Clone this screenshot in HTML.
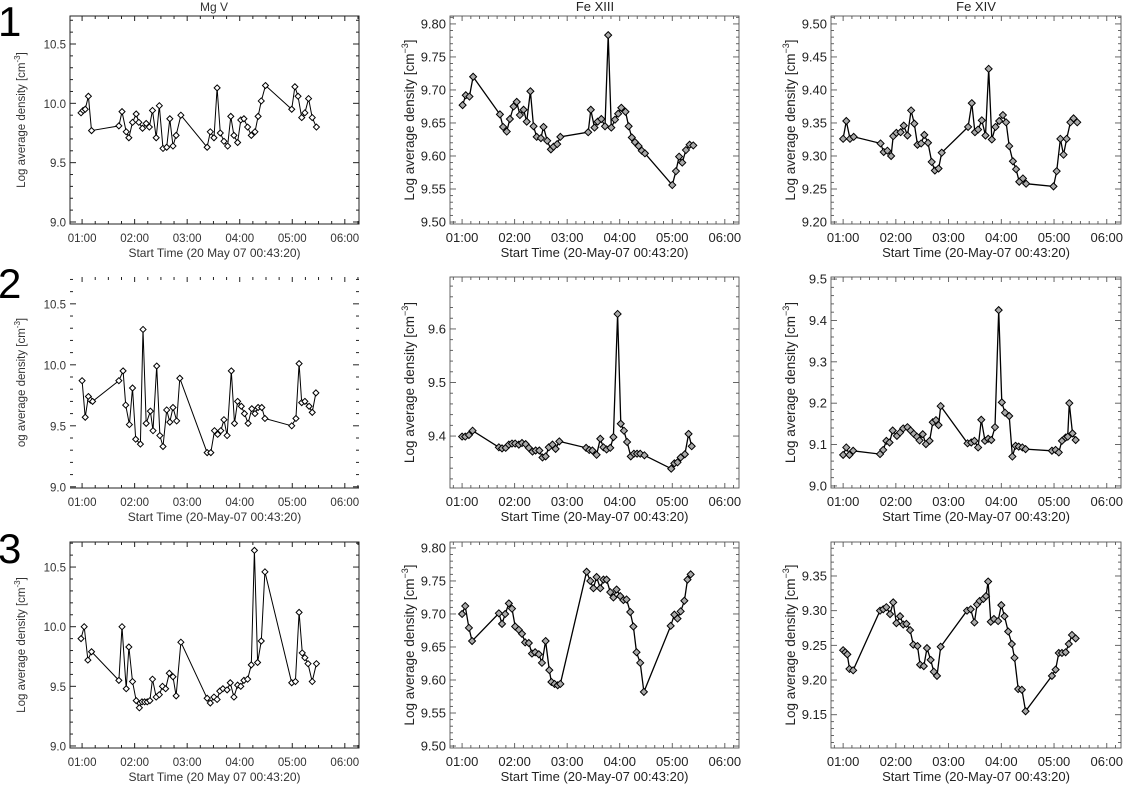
<!DOCTYPE html>
<html><head><meta charset="utf-8"><style>
html,body{margin:0;padding:0;background:#fff;}
svg{display:block;font-family:"Liberation Sans",sans-serif;}
</style></head><body>
<svg id="fig" width="1130" height="785" viewBox="0 0 1130 785">
<text x="-2" y="36" font-size="42" fill="#000">1</text>
<text x="-2" y="298" font-size="42" fill="#000">2</text>
<text x="-2" y="563" font-size="42" fill="#000">3</text>
<text x="214" y="11" font-size="12" fill="#333" text-anchor="middle">Mg V</text>
<text x="595" y="11" font-size="13" fill="#222" text-anchor="middle">Fe XIII</text>
<text x="976" y="11" font-size="13" fill="#222" text-anchor="middle">Fe XIV</text>
</svg>
<script>
// time (hours) arrays and log-density value arrays
const r1c1_t=[0.98,1.02,1.06,1.12,1.18,1.70,1.76,1.84,1.89,1.96,2.03,2.08,2.15,2.22,2.28,2.34,2.41,2.47,2.54,2.61,2.67,2.73,2.79,2.88,3.38,3.44,3.51,3.57,3.63,3.70,3.77,3.83,3.89,3.96,4.02,4.08,4.15,4.22,4.29,4.35,4.41,4.49,4.99,5.05,5.11,5.18,5.24,5.31,5.38,5.46];
const r1c1_v=[9.92,9.94,9.95,10.06,9.77,9.81,9.93,9.76,9.71,9.84,9.91,9.84,9.79,9.83,9.80,9.94,9.71,9.98,9.62,9.63,9.87,9.64,9.73,9.90,9.63,9.76,9.71,10.13,9.75,9.68,9.64,9.89,9.73,9.67,9.86,9.87,9.80,9.73,9.76,9.89,10.02,10.15,9.95,10.14,10.06,9.88,9.92,10.04,9.88,9.80];
const r1c2_t=[1.01,1.07,1.14,1.21,1.72,1.78,1.85,1.91,1.98,2.04,2.10,2.17,2.23,2.30,2.36,2.42,2.50,2.55,2.62,2.69,2.74,2.81,2.87,3.40,3.45,3.52,3.58,3.65,3.72,3.78,3.84,3.91,3.97,4.03,4.11,4.17,4.23,4.29,4.36,4.42,4.48,5.00,5.07,5.13,5.19,5.26,5.33,5.40];
const r1c2_v=[9.677,9.692,9.690,9.720,9.663,9.644,9.637,9.656,9.675,9.682,9.662,9.670,9.652,9.698,9.645,9.629,9.627,9.644,9.623,9.610,9.614,9.618,9.629,9.636,9.670,9.643,9.652,9.656,9.645,9.783,9.643,9.655,9.664,9.673,9.667,9.645,9.628,9.621,9.615,9.608,9.604,9.556,9.577,9.599,9.590,9.609,9.617,9.616];
const r1c3_t=[1.00,1.06,1.13,1.20,1.71,1.77,1.84,1.91,1.95,2.01,2.09,2.15,2.22,2.29,2.35,2.41,2.48,2.54,2.61,2.68,2.74,2.81,2.87,3.37,3.44,3.50,3.56,3.63,3.70,3.76,3.82,3.89,3.96,4.03,4.09,4.15,4.22,4.28,4.34,4.41,4.47,4.99,5.05,5.12,5.18,5.24,5.31,5.37,5.44];
const r1c3_v=[9.326,9.353,9.326,9.329,9.319,9.306,9.308,9.300,9.330,9.335,9.336,9.346,9.331,9.369,9.349,9.317,9.319,9.332,9.320,9.291,9.278,9.281,9.305,9.344,9.380,9.336,9.340,9.354,9.331,9.432,9.325,9.344,9.353,9.362,9.351,9.315,9.292,9.280,9.261,9.266,9.258,9.254,9.277,9.326,9.302,9.326,9.351,9.357,9.351];
const r2c1_t=[1.00,1.06,1.12,1.16,1.20,1.70,1.78,1.83,1.90,1.96,2.02,2.11,2.16,2.22,2.30,2.35,2.42,2.48,2.54,2.61,2.67,2.73,2.80,2.86,3.38,3.45,3.52,3.58,3.64,3.70,3.76,3.84,3.90,3.96,4.03,4.09,4.16,4.23,4.29,4.35,4.42,4.48,4.99,5.07,5.13,5.18,5.24,5.32,5.38,5.45];
const r2c1_v=[9.87,9.57,9.74,9.71,9.70,9.87,9.95,9.67,9.51,9.81,9.39,9.35,10.29,9.52,9.62,9.46,9.99,9.42,9.33,9.63,9.53,9.65,9.54,9.89,9.28,9.28,9.46,9.43,9.46,9.55,9.42,9.95,9.52,9.70,9.66,9.60,9.52,9.64,9.60,9.65,9.65,9.56,9.50,9.56,10.01,9.69,9.70,9.66,9.61,9.77];
const r2c2_t=[1.00,1.06,1.13,1.20,1.70,1.76,1.83,1.89,1.95,2.01,2.08,2.14,2.21,2.27,2.34,2.40,2.47,2.53,2.59,2.65,2.72,2.78,2.85,3.36,3.42,3.48,3.56,3.63,3.69,3.75,3.82,3.88,3.96,4.02,4.08,4.14,4.21,4.27,4.33,4.39,4.47,4.98,5.04,5.10,5.16,5.24,5.31,5.37];
const r2c2_v=[9.399,9.399,9.402,9.410,9.379,9.377,9.378,9.384,9.386,9.386,9.384,9.387,9.385,9.378,9.371,9.373,9.373,9.360,9.362,9.379,9.384,9.376,9.390,9.378,9.374,9.373,9.365,9.395,9.379,9.375,9.378,9.398,9.628,9.423,9.410,9.389,9.362,9.367,9.367,9.367,9.364,9.339,9.349,9.351,9.360,9.366,9.404,9.381];
const r2c3_t=[1.00,1.06,1.12,1.19,1.70,1.76,1.82,1.88,1.94,2.02,2.08,2.14,2.22,2.28,2.34,2.40,2.45,2.51,2.57,2.64,2.70,2.76,2.81,2.85,3.36,3.43,3.49,3.56,3.62,3.69,3.75,3.81,3.88,3.95,4.01,4.07,4.15,4.21,4.27,4.33,4.40,4.46,4.96,5.03,5.09,5.15,5.22,5.26,5.29,5.35,5.41];
const r2c3_v=[9.075,9.093,9.075,9.085,9.077,9.087,9.109,9.105,9.134,9.121,9.129,9.139,9.142,9.134,9.126,9.119,9.110,9.125,9.101,9.109,9.154,9.159,9.147,9.193,9.103,9.105,9.109,9.093,9.160,9.109,9.114,9.111,9.142,9.425,9.202,9.177,9.169,9.071,9.097,9.095,9.093,9.089,9.085,9.087,9.081,9.109,9.117,9.119,9.200,9.127,9.111];
const r3c1_t=[0.98,1.04,1.11,1.18,1.70,1.76,1.84,1.89,1.96,2.03,2.09,2.14,2.19,2.24,2.29,2.34,2.41,2.47,2.53,2.59,2.66,2.73,2.79,2.88,3.38,3.44,3.51,3.57,3.62,3.68,3.76,3.82,3.89,3.96,4.02,4.08,4.15,4.22,4.28,4.34,4.41,4.48,4.99,5.06,5.13,5.19,5.24,5.30,5.38,5.46];
const r3c1_v=[9.90,10.00,9.72,9.79,9.55,10.00,9.48,9.83,9.54,9.38,9.32,9.37,9.37,9.37,9.38,9.56,9.41,9.43,9.50,9.48,9.61,9.58,9.42,9.87,9.40,9.36,9.41,9.39,9.46,9.48,9.47,9.53,9.41,9.51,9.50,9.55,9.56,9.68,10.64,9.70,9.88,10.46,9.53,9.54,10.12,9.78,9.74,9.69,9.54,9.69];
const r3c2_t=[1.00,1.06,1.13,1.19,1.70,1.76,1.82,1.89,1.95,2.01,2.08,2.14,2.20,2.27,2.33,2.39,2.46,2.52,2.59,2.66,2.70,2.76,2.82,2.87,3.37,3.44,3.50,3.56,3.63,3.69,3.75,3.82,3.88,3.94,4.01,4.07,4.13,4.20,4.26,4.32,4.39,4.46,4.97,5.04,5.10,5.16,5.23,5.29,5.35];
const r3c2_v=[9.700,9.712,9.679,9.659,9.701,9.685,9.700,9.716,9.708,9.681,9.676,9.670,9.657,9.656,9.640,9.642,9.639,9.626,9.659,9.615,9.597,9.594,9.592,9.594,9.764,9.750,9.739,9.756,9.739,9.752,9.752,9.733,9.725,9.737,9.727,9.721,9.722,9.703,9.681,9.642,9.626,9.582,9.682,9.699,9.693,9.704,9.720,9.752,9.760];
const r3c3_t=[1.00,1.04,1.08,1.12,1.19,1.70,1.76,1.82,1.89,1.95,2.01,2.08,2.14,2.20,2.27,2.33,2.41,2.46,2.53,2.59,2.66,2.72,2.78,2.85,3.35,3.42,3.49,3.54,3.59,3.66,3.71,3.75,3.80,3.86,3.94,4.00,4.06,4.13,4.20,4.25,4.32,4.39,4.46,4.96,5.03,5.09,5.15,5.22,5.28,5.34,5.41];
const r3c3_v=[9.243,9.240,9.237,9.216,9.214,9.300,9.302,9.305,9.295,9.312,9.282,9.292,9.280,9.281,9.272,9.251,9.249,9.222,9.220,9.246,9.229,9.212,9.206,9.248,9.300,9.302,9.283,9.309,9.314,9.317,9.321,9.342,9.284,9.288,9.285,9.308,9.292,9.270,9.252,9.232,9.187,9.186,9.155,9.206,9.215,9.239,9.239,9.240,9.252,9.265,9.260];
const xTickHours=[1,2,3,4,5,6];
const xTickLabels=["01:00","02:00","03:00","04:00","05:00","06:00"];
const magTicks=[9.0,9.5,10.0,10.5];
const magTickLabels=["9.0","9.5","10.0","10.5"];

const NS="http://www.w3.org/2000/svg";
const svg=document.getElementById('fig');
function mk(tag,attrs,parent){const e=document.createElementNS(NS,tag);for(const k in attrs)e.setAttribute(k,attrs[k]);(parent||svg).appendChild(e);return e;}

function panel(p){
  const g=mk('g',{});
  
  
  const X=t=>p.x0+(t-0.77)/(6.27-0.77)*(p.x1-p.x0);
  const Y=v=>p.y1-(v-p.ymin)/(p.ymax-p.ymin)*(p.y1-p.y0);
  const ax=p.mag?'#222':'#555';
  const sw=p.mag?1:0.9;
  // axes box
  if(p.box){
    const r=mk('rect',{x:p.x0,y:p.y0,width:p.x1-p.x0,height:p.y1-p.y0,fill:'none',stroke:ax,'stroke-width':sw},g);
    
    
  } else {
    const l=mk('line',{x1:p.x0,y1:p.y1,x2:p.x1,y2:p.y1,stroke:ax,'stroke-width':sw},g);
    
    
  }
  // x ticks
  for(let m=0;m<=6*6;m++){
    const t=0.77+0; const h=1+m/6-1+0.8333; // placeholder not used
  }
  const step=p.mag?0.25:1/6;
  for(let h=Math.ceil(0.77/step)*step;h<=6.27;h+=step){
    const maj=Math.abs(h-Math.round(h))<1e-6;
    const len=maj?5:3;const x=X(h);
    mk('line',{x1:x,y1:p.y1,x2:x,y2:p.y1-len,stroke:ax,'stroke-width':sw},g);
    mk('line',{x1:x,y1:p.y0,x2:x,y2:p.y0+len,stroke:ax,'stroke-width':sw},g);
  }
  xTickHours.forEach((h,i)=>{
    const tx=mk('text',{x:X(h),y:p.y1+18,'font-size':p.mag?11.5:13,fill:p.mag?'#333':'#222','text-anchor':'middle'},g);
    tx.textContent=xTickLabels[i];
    
    
  });
  // y minor/major ticks
  const n=Math.round((p.ymax-p.ymin)/p.minor)+2;
  const start=Math.ceil(p.ymin/p.minor-1e-6);
  for(let k=start;k*p.minor<=p.ymax+1e-9;k++){
    const v=k*p.minor; const y=Y(v);
    const isMaj=p.ticks.some(tv=>Math.abs(tv-v)<1e-6);
    const len=isMaj?6:3;
    mk('line',{x1:p.x0,y1:y,x2:p.x0+len,y2:y,stroke:ax,'stroke-width':sw},g);
    mk('line',{x1:p.x1,y1:y,x2:p.x1-len,y2:y,stroke:ax,'stroke-width':sw},g);
  }
  p.ticks.forEach((v,i)=>{
    const tx=mk('text',{x:p.x0-4,y:Y(v)+4.5,'font-size':p.mag?11.5:13,fill:p.mag?'#333':'#222','text-anchor':'end'},g);
    tx.textContent=p.labels[i];
    
    
  });
  // axis titles
  const yt=mk('text',{x:0,y:0,'font-size':p.mag?11.5:13.5,fill:p.mag?'#333':'#222','text-anchor':'middle',transform:`translate(${p.mag?p.x0-45:p.x0-36},${(p.y0+p.y1)/2}) rotate(-90)`},g);
  yt.innerHTML=p.ytitle;
  
  
  const xt=mk('text',{x:(p.x0+p.x1)/2,y:p.y1+33,'font-size':p.mag?12:13,fill:p.mag?'#333':'#222','text-anchor':'middle'},g);
  xt.textContent=p.xtitle;
  
  
  // series
  const pts=p.t.map((t,i)=>X(t).toFixed(1)+','+Y(p.v[i]).toFixed(1)).join(' ');
  const pl=mk('polyline',{points:pts,fill:'none',stroke:'#000','stroke-width':p.mag?1:1.3},g);
  
  
  const s=p.mag?3:3.5;
  p.t.forEach((t,i)=>{
    const x=X(t),y=Y(p.v[i]);
    const d=mk('polygon',{points:`${x},${y-s} ${x+s},${y} ${x},${y+s} ${x-s},${y}`,fill:p.mag?'#fff':'#aaa',stroke:'#000','stroke-width':1},g);
    
    
  });
}
const L='Log average density [cm<tspan font-size="9" dy="-6">−3</tspan><tspan dy="6">]</tspan>';
const Lmag='Log average density [cm<tspan font-size="8" dy="-5">-3</tspan><tspan dy="5">]</tspan>';
const XT='Start Time (20-May-07 00:43:20)';
const XTm='Start Time (20  May  07 00:43:20)';
function rng(a,b,s,d){const r=[];for(let v=a;v<=b+1e-9;v+=s)r.push(+v.toFixed(3));return r;}
function lab(arr,d){return arr.map(v=>v.toFixed(d));}
const c1=[70,359],c2=[450,739],c3=[831,1121];
const r1=[16,224],r2=[277,488],r3=[542,748];
const t1=rng(9.5,9.8,0.05),t2=rng(9.4,9.6,0.1),t3=rng(9.2,9.5,0.05),t4=rng(9.0,9.5,0.1),t5=rng(9.15,9.35,0.05);
panel({name:'panel-1-mg-v',x0:c1[0],x1:c1[1],y0:r1[0],y1:r1[1],ymin:8.983,ymax:10.736,ticks:magTicks,labels:magTickLabels,minor:0.1,mag:true,box:true,ytitle:Lmag,xtitle:XTm,t:r1c1_t,v:r1c1_v});
panel({name:'panel-1-fe-xiii',x0:c2[0],x1:c2[1],y0:r1[0],y1:r1[1],ymin:9.497,ymax:9.812,ticks:t1,labels:lab(t1,2),minor:0.01,box:true,ytitle:L,xtitle:XT,t:r1c2_t,v:r1c2_v});
panel({name:'panel-1-fe-xiv',x0:c3[0],x1:c3[1],y0:r1[0],y1:r1[1],ymin:9.197,ymax:9.512,ticks:t3,labels:lab(t3,2),minor:0.01,box:true,ytitle:L,xtitle:XT,t:r1c3_t,v:r1c3_v});
panel({name:'panel-2-mg-v',x0:c1[0],x1:c1[1],y0:r2[0],y1:r2[1],ymin:8.99,ymax:10.72,ticks:magTicks,labels:magTickLabels,minor:0.1,mag:true,box:false,ytitle:'og average density [cm<tspan font-size="8" dy="-5">-3</tspan><tspan dy="5">]</tspan>',xtitle:'Start Time (20-May-07 00:43:20)',t:r2c1_t,v:r2c1_v});
panel({name:'panel-2-fe-xiii',x0:c2[0],x1:c2[1],y0:r2[0],y1:r2[1],ymin:9.303,ymax:9.697,ticks:t2,labels:lab(t2,1),minor:0.02,box:true,ytitle:L,xtitle:XT,t:r2c2_t,v:r2c2_v});
panel({name:'panel-2-fe-xiv',x0:c3[0],x1:c3[1],y0:r2[0],y1:r2[1],ymin:8.995,ymax:9.505,ticks:t4,labels:lab(t4,1),minor:0.02,box:true,ytitle:L,xtitle:XT,t:r2c3_t,v:r2c3_v});
panel({name:'panel-3-mg-v',x0:c1[0],x1:c1[1],y0:r3[0],y1:r3[1],ymin:8.983,ymax:10.71,ticks:magTicks,labels:magTickLabels,minor:0.1,mag:true,box:true,ytitle:Lmag,xtitle:XTm,t:r3c1_t,v:r3c1_v});
panel({name:'panel-3-fe-xiii',x0:c2[0],x1:c2[1],y0:r3[0],y1:r3[1],ymin:9.497,ymax:9.809,ticks:t1,labels:lab(t1,2),minor:0.01,box:true,ytitle:L,xtitle:XT,t:r3c2_t,v:r3c2_v});
panel({name:'panel-3-fe-xiv',x0:c3[0],x1:c3[1],y0:r3[0],y1:r3[1],ymin:9.102,ymax:9.399,ticks:t5,labels:lab(t5,2),minor:0.01,box:true,ytitle:L,xtitle:XT,t:r3c3_t,v:r3c3_v});
</script>
</body></html>
